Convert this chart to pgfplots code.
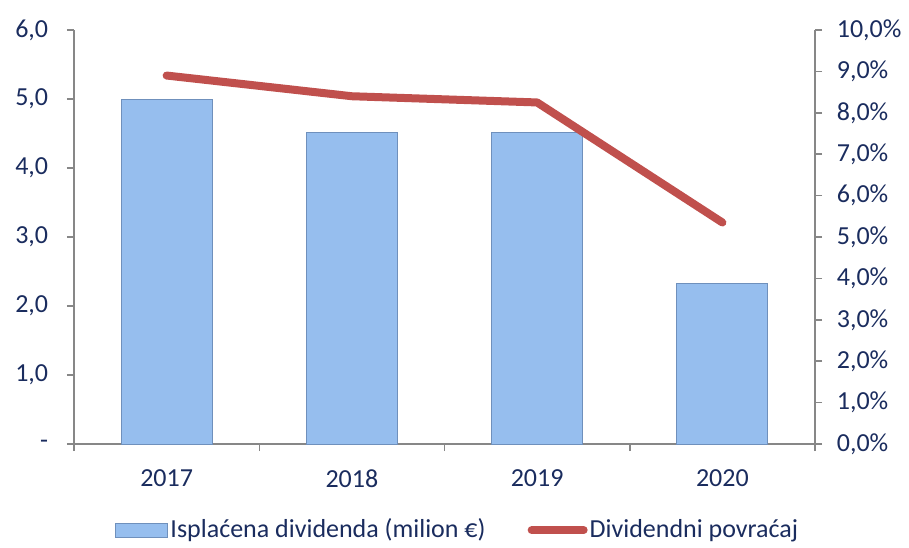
\documentclass[border=0pt]{standalone}
\usepackage{pgfplots}
\pgfplotsset{compat=1.18}
\usepackage{fontspec}
\setmainfont{Carlito}

\definecolor{txt}{HTML}{1A2C5E}
\definecolor{barfill}{HTML}{96BEEE}
\definecolor{baredge}{HTML}{6F90BC}
\definecolor{linered}{HTML}{C0504D}
\definecolor{axgrey}{HTML}{878787}

\begin{document}
\fontsize{26}{30}\selectfont
\begin{tikzpicture}[x=1pt,y=1pt]
\useasboundingbox (-74,-103) rectangle (835,444);

\pgfplotsset{
  common/.style={
    at={(0,0)}, anchor=south west,
    width=741pt, height=414pt, scale only axis,
    xmin=-0.5, xmax=3.5,
    axis line style={axgrey, line width=1.5pt, -},
    tick style={axgrey, line width=1.5pt},
    tick align=outside, major tick length=7pt, minor tick length=7pt,
    tick label style={font=\fontsize{26}{30}\selectfont, text=txt},
  }
}

% bars, left axis
\begin{axis}[
  common,
  axis x line*=bottom, axis y line*=left,
  ymin=0, ymax=6,
  xtick={0,1,2,3}, xticklabels={2017,2018,2019,2020},
  major x tick style={draw=none},
  minor xtick={-0.5,0.5,1.5,2.5,3.5},
  ytick={0,1,2,3,4,5,6},
  yticklabels={-\hspace{11pt},{1,0},{2,0},{3,0},{4,0},{5,0},{6,0}},
  xticklabel style={yshift=-10pt},
  yticklabel style={xshift=-10pt},
]
\addplot[ybar, bar width=91pt, bar shift=0pt, fill=barfill, draw=baredge, line width=1pt]
  coordinates {(0,5.0) (1,4.52) (2,4.52) (3,2.32)};
\end{axis}

% line, right axis
\begin{axis}[
  common,
  axis x line=none, axis y line*=right,
  ymin=0, ymax=10,
  ytick={0,1,2,3,4,5,6,7,8,9,10},
  yticklabels={{0,0\%},{1,0\%},{2,0\%},{3,0\%},{4,0\%},{5,0\%},{6,0\%},{7,0\%},{8,0\%},{9,0\%},{10,0\%}},
  yticklabel style={anchor=west, xshift=6pt},
  legend style={at={(0.518,-0.208)}, anchor=center, draw=none, fill=none,
    legend columns=2, font=\fontsize{26}{30}\selectfont, text=txt,
    /tikz/every even column/.append style={column sep=40pt}},
]
\addlegendimage{legend image code/.code={\draw[fill=barfill, draw=baredge, line width=1pt] (0pt,-7pt) rectangle (52pt,7pt);}}
\addlegendentry{Isplaćena dividenda (milion €)}
\addplot[linered, line width=8pt, line cap=round, line join=round,
  legend image code/.code={\draw[linered, line width=8pt, line cap=round] (4pt,0pt) -- (56pt,0pt);}]
  coordinates {(0,8.9) (1,8.4) (2,8.25) (3,5.35)};
\addlegendentry{Dividendni povraćaj}
\end{axis}
\end{tikzpicture}
\end{document}
